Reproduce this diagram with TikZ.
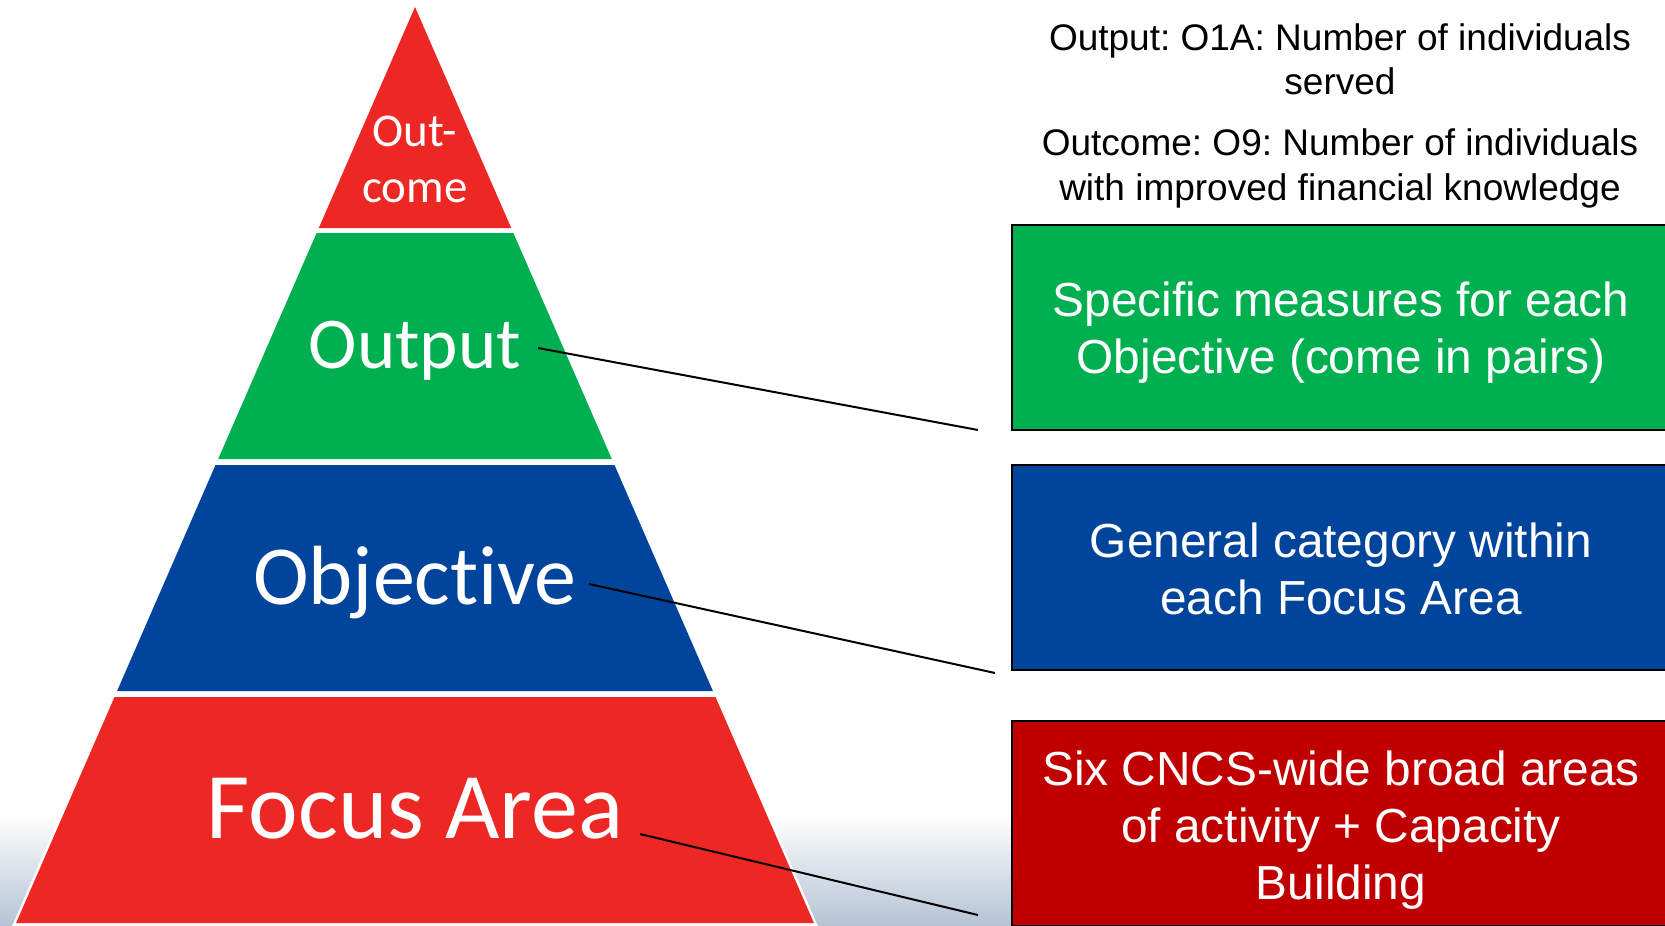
\documentclass[tikz,border=0pt]{standalone}
\usepackage{fontspec}
\setmainfont{Liberation Sans}[Ligatures={NoCommon}]
\newfontfamily\pyrfont{Carlito}[Ligatures={NoCommon,NoRequired,NoContextual}]
\definecolor{pyrred}{RGB}{237,39,36}
\definecolor{pyrgreen}{RGB}{0,175,80}
\definecolor{pyrblue}{RGB}{0,68,155}
\definecolor{boxred}{RGB}{192,0,0}
\definecolor{bggray}{RGB}{180,195,212}
\frenchspacing
\begin{document}
\begin{tikzpicture}[x=1pt,y=-1pt,
  lbl/.style={text=white, anchor=base, inner sep=0pt},
  infobox/.style={draw=black, line width=2pt, minimum width=658pt, minimum height=205pt, inner sep=0pt},
  boxtext/.style={text=white, align=center, inner sep=0pt, font=\fontsize{47.8}{57}\selectfont},
  note/.style={anchor=base, inner sep=0pt, font=\fontsize{37}{44.6}\selectfont},
  conn/.style={draw=black, line width=2pt}]
\useasboundingbox (0,0) rectangle (1665,926);
\clip (0,0) rectangle (1665,926);
% background
\fill[white] (0,0) rectangle (1665,926);
\shade[top color=white, bottom color=bggray] (0,815) rectangle (1665,926);
% pyramid white backdrop
\fill[white] (415,-3) -- (819.6,930) -- (10.4,930) -- cycle;
% bands
\fill[pyrred]   (415,7) -- (511.2,228) -- (318.8,228) -- cycle;
\fill[pyrgreen] (316.6,233) -- (513.4,233) -- (611.8,459) -- (218.2,459) -- cycle;
\fill[pyrblue]  (215.5,465) -- (614.5,465) -- (712.9,691) -- (117.1,691) -- cycle;
\fill[pyrred]   (114.5,697) -- (715.5,697) -- (813.9,923) -- (16.1,923) -- cycle;
% pyramid labels
\node[lbl, font=\pyrfont\fontsize{47}{56}\selectfont] (out1) at (415,146) {Out-};
\node[lbl, font=\pyrfont\fontsize{47}{56}\selectfont] (out2) at (415,202) {come};
\node[lbl, font=\pyrfont\fontsize{73}{88}\selectfont] (output) at (415,368) {Output};
\node[lbl, font=\pyrfont\fontsize{84}{100}\selectfont] (objective) at (415,604) {Objective};
\node[lbl, font=\pyrfont\fontsize{94}{112}\selectfont] (focus) at (415,838) {Focus Area};
% notes
\node[note] (n1) at (1340,50) {Output: O1A: Number of individuals};
\node[note] (n2) at (1340,94) {served};
\node[note] (n3) at (1340,155) {Outcome: O9: Number of individuals};
\node[note] (n4) at (1340,200) {with improved financial knowledge};
% boxes
\node[infobox, fill=pyrgreen] (bgreen) at (1341,327.5) {};
\node[infobox, fill=pyrblue] (bblue) at (1341,567.5) {};
\node[infobox, fill=boxred] (bred) at (1341,823.5) {};
\node[boxtext] (tgreen) at ([yshift=-5.3pt]bgreen.center) {Specific measures for each\\Objective (come in pairs)};
\node[boxtext] (tblue) at ([yshift=-1.5pt]bblue.center) {General category within\\each Focus Area};
\node[boxtext] (tred) at ([yshift=-6.4pt]bred.center) {Six CNCS-wide broad areas\\of activity + Capacity\\Building};
% connectors
\coordinate (c1s) at (538,348);
\coordinate (c1e) at (978,430);
\coordinate (c2s) at (589,584);
\coordinate (c2e) at (995,673);
\coordinate (c3s) at (640,834);
\coordinate (c3e) at (978,915);
\draw[conn] (c1s) -- (c1e);
\draw[conn] (c2s) -- (c2e);
\draw[conn] (c3s) -- (c3e);
\end{tikzpicture}
\end{document}
